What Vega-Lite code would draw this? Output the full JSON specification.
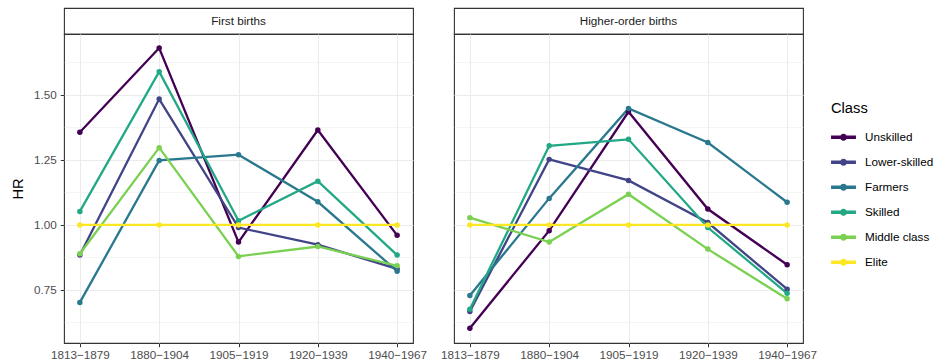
{
  "$schema": "https://vega.github.io/schema/vega-lite/v6.json",
  "background": "white",
  "padding": {"left": 10, "top": 7, "right": 5, "bottom": 5},
  "config": {
    "font": "Liberation Sans",
    "view": {"stroke": "#333333", "strokeWidth": 1.1}
  },
  "datasets": {
    "hr": [
      {"panel": "First births", "period": "1813\u22121879", "cls": "Unskilled", "hr": 1.356},
      {"panel": "First births", "period": "1880\u22121904", "cls": "Unskilled", "hr": 1.68},
      {"panel": "First births", "period": "1905\u22121919", "cls": "Unskilled", "hr": 0.934},
      {"panel": "First births", "period": "1920\u22121939", "cls": "Unskilled", "hr": 1.365},
      {"panel": "First births", "period": "1940\u22121967", "cls": "Unskilled", "hr": 0.96},
      {"panel": "First births", "period": "1813\u22121879", "cls": "Lower-skilled", "hr": 0.884},
      {"panel": "First births", "period": "1880\u22121904", "cls": "Lower-skilled", "hr": 1.484},
      {"panel": "First births", "period": "1905\u22121919", "cls": "Lower-skilled", "hr": 0.99},
      {"panel": "First births", "period": "1920\u22121939", "cls": "Lower-skilled", "hr": 0.924},
      {"panel": "First births", "period": "1940\u22121967", "cls": "Lower-skilled", "hr": 0.831},
      {"panel": "First births", "period": "1813\u22121879", "cls": "Farmers", "hr": 0.702},
      {"panel": "First births", "period": "1880\u22121904", "cls": "Farmers", "hr": 1.248},
      {"panel": "First births", "period": "1905\u22121919", "cls": "Farmers", "hr": 1.27},
      {"panel": "First births", "period": "1920\u22121939", "cls": "Farmers", "hr": 1.089},
      {"panel": "First births", "period": "1940\u22121967", "cls": "Farmers", "hr": 0.822},
      {"panel": "First births", "period": "1813\u22121879", "cls": "Skilled", "hr": 1.052},
      {"panel": "First births", "period": "1880\u22121904", "cls": "Skilled", "hr": 1.589},
      {"panel": "First births", "period": "1905\u22121919", "cls": "Skilled", "hr": 1.016},
      {"panel": "First births", "period": "1920\u22121939", "cls": "Skilled", "hr": 1.168},
      {"panel": "First births", "period": "1940\u22121967", "cls": "Skilled", "hr": 0.884},
      {"panel": "First births", "period": "1813\u22121879", "cls": "Middle class", "hr": 0.889},
      {"panel": "First births", "period": "1880\u22121904", "cls": "Middle class", "hr": 1.297},
      {"panel": "First births", "period": "1905\u22121919", "cls": "Middle class", "hr": 0.879},
      {"panel": "First births", "period": "1920\u22121939", "cls": "Middle class", "hr": 0.917},
      {"panel": "First births", "period": "1940\u22121967", "cls": "Middle class", "hr": 0.843},
      {"panel": "First births", "period": "1813\u22121879", "cls": "Elite", "hr": 1.0},
      {"panel": "First births", "period": "1880\u22121904", "cls": "Elite", "hr": 1.0},
      {"panel": "First births", "period": "1905\u22121919", "cls": "Elite", "hr": 1.0},
      {"panel": "First births", "period": "1920\u22121939", "cls": "Elite", "hr": 1.0},
      {"panel": "First births", "period": "1940\u22121967", "cls": "Elite", "hr": 1.0},
      {"panel": "Higher-order births", "period": "1813\u22121879", "cls": "Unskilled", "hr": 0.603},
      {"panel": "Higher-order births", "period": "1880\u22121904", "cls": "Unskilled", "hr": 0.978},
      {"panel": "Higher-order births", "period": "1905\u22121919", "cls": "Unskilled", "hr": 1.435},
      {"panel": "Higher-order births", "period": "1920\u22121939", "cls": "Unskilled", "hr": 1.061},
      {"panel": "Higher-order births", "period": "1940\u22121967", "cls": "Unskilled", "hr": 0.847},
      {"panel": "Higher-order births", "period": "1813\u22121879", "cls": "Lower-skilled", "hr": 0.667},
      {"panel": "Higher-order births", "period": "1880\u22121904", "cls": "Lower-skilled", "hr": 1.252},
      {"panel": "Higher-order births", "period": "1905\u22121919", "cls": "Lower-skilled", "hr": 1.171},
      {"panel": "Higher-order births", "period": "1920\u22121939", "cls": "Lower-skilled", "hr": 1.009},
      {"panel": "Higher-order births", "period": "1940\u22121967", "cls": "Lower-skilled", "hr": 0.753},
      {"panel": "Higher-order births", "period": "1813\u22121879", "cls": "Farmers", "hr": 0.729},
      {"panel": "Higher-order births", "period": "1880\u22121904", "cls": "Farmers", "hr": 1.102},
      {"panel": "Higher-order births", "period": "1905\u22121919", "cls": "Farmers", "hr": 1.448},
      {"panel": "Higher-order births", "period": "1920\u22121939", "cls": "Farmers", "hr": 1.317},
      {"panel": "Higher-order births", "period": "1940\u22121967", "cls": "Farmers", "hr": 1.087},
      {"panel": "Higher-order births", "period": "1813\u22121879", "cls": "Skilled", "hr": 0.676},
      {"panel": "Higher-order births", "period": "1880\u22121904", "cls": "Skilled", "hr": 1.304},
      {"panel": "Higher-order births", "period": "1905\u22121919", "cls": "Skilled", "hr": 1.329},
      {"panel": "Higher-order births", "period": "1920\u22121939", "cls": "Skilled", "hr": 0.99},
      {"panel": "Higher-order births", "period": "1940\u22121967", "cls": "Skilled", "hr": 0.737},
      {"panel": "Higher-order births", "period": "1813\u22121879", "cls": "Middle class", "hr": 1.028},
      {"panel": "Higher-order births", "period": "1880\u22121904", "cls": "Middle class", "hr": 0.934},
      {"panel": "Higher-order births", "period": "1905\u22121919", "cls": "Middle class", "hr": 1.118},
      {"panel": "Higher-order births", "period": "1920\u22121939", "cls": "Middle class", "hr": 0.907},
      {"panel": "Higher-order births", "period": "1940\u22121967", "cls": "Middle class", "hr": 0.716},
      {"panel": "Higher-order births", "period": "1813\u22121879", "cls": "Elite", "hr": 1.0},
      {"panel": "Higher-order births", "period": "1880\u22121904", "cls": "Elite", "hr": 1.0},
      {"panel": "Higher-order births", "period": "1905\u22121919", "cls": "Elite", "hr": 1.0},
      {"panel": "Higher-order births", "period": "1920\u22121939", "cls": "Elite", "hr": 1.0},
      {"panel": "Higher-order births", "period": "1940\u22121967", "cls": "Elite", "hr": 1.0}
    ]
  },
  "spacing": 11,
  "hconcat": [
    {
      "spacing": 0,
      "bounds": "flush",
      "vconcat": [
        {
          "width": 349, "height": 26,
          "view": {"stroke": "#333333", "strokeWidth": 1.1, "fill": "white"},
          "data": {"values": [{"label": "First births"}]},
          "mark": {"type": "text", "fontSize": 11.7, "color": "#1A1A1A", "baseline": "middle", "align": "center"},
          "encoding": {"text": {"field": "label"}}
        },
        {
          "width": 349, "height": 309,
          "data": {"name": "hr"},
          "transform": [{"filter": "datum.panel === 'First births'"}],
          "encoding": {
            "x": {"field": "period", "type": "ordinal", "scale": {"type": "point", "padding": 0.2},
              "axis": {"title": null, "labelAngle": 0, "labelFontSize": 11.7, "labelColor": "#4D4D4D", "domain": false, "tickColor": "#333333", "tickSize": 3.7, "labelPadding": 3, "grid": true, "gridColor": "#EBEBEB", "gridWidth": 1}},
            "y": {"field": "hr", "type": "quantitative", "scale": {"domain": [0.546, 1.734], "nice": false, "zero": false},
              "axis": {"title": "HR", "titleFontSize": 14.7, "titleFontWeight": "normal", "titleColor": "#000000", "titlePadding": 8,
                "values": [0.625, 0.75, 0.875, 1, 1.125, 1.25, 1.375, 1.5, 1.625],
                "labelExpr": "datum.value % 0.25 === 0 ? format(datum.value, '.2f') : ''",
                "labelFontSize": 11.7, "labelColor": "#4D4D4D", "labelPadding": 4, "domain": false,
                "tickColor": "#333333", "tickSize": 3.7,
                "tickOpacity": {"condition": {"test": "datum.value % 0.25 !== 0", "value": 0}, "value": 1},
                "gridColor": "#EBEBEB",
                "gridWidth": {"condition": {"test": "datum.value % 0.25 !== 0", "value": 0.5}, "value": 1}}},
            "color": {"field": "cls", "type": "nominal", "sort": ["Unskilled", "Lower-skilled", "Farmers", "Skilled", "Middle class", "Elite"],
              "scale": {"domain": ["Unskilled", "Lower-skilled", "Farmers", "Skilled", "Middle class", "Elite"], "range": ["#440154", "#414487", "#2A788E", "#22A884", "#7AD151", "#FDE725"]},
              "legend": {"title": "Class", "orient": "none", "legendX": 767, "legendY": 93, "titleFontSize": 14.7, "titleFontWeight": "normal", "titleColor": "#000000", "titlePadding": 9,
                "labelFontSize": 11.7, "labelColor": "#000000", "labelOffset": 9,
                "symbolType": "M-1,-0.14H1V0.14H-1Z M0.28,0 A0.28,0.28 0 1,1 -0.28,0 A0.28,0.28 0 1,1 0.28,0Z",
                "symbolSize": 620, "symbolStrokeWidth": 0, "symbolOpacity": 1, "rowPadding": 5}}
          },
          "layer": [
            {"mark": {"type": "line", "strokeWidth": 2.3}},
            {"mark": {"type": "point", "filled": true, "size": 30, "opacity": 1}}
          ]
        }
      ]
    },
    {
      "spacing": 0,
      "bounds": "flush",
      "vconcat": [
        {
          "width": 349, "height": 26,
          "view": {"stroke": "#333333", "strokeWidth": 1.1, "fill": "white"},
          "data": {"values": [{"label": "Higher-order births"}]},
          "mark": {"type": "text", "fontSize": 11.7, "color": "#1A1A1A", "baseline": "middle", "align": "center"},
          "encoding": {"text": {"field": "label"}}
        },
        {
          "width": 349, "height": 309,
          "data": {"name": "hr"},
          "transform": [{"filter": "datum.panel === 'Higher-order births'"}],
          "encoding": {
            "x": {"field": "period", "type": "ordinal", "scale": {"type": "point", "padding": 0.2},
              "axis": {"title": null, "labelAngle": 0, "labelFontSize": 11.7, "labelColor": "#4D4D4D", "domain": false, "tickColor": "#333333", "tickSize": 3.7, "labelPadding": 3, "grid": true, "gridColor": "#EBEBEB", "gridWidth": 1}},
            "y": {"field": "hr", "type": "quantitative", "scale": {"domain": [0.546, 1.734], "nice": false, "zero": false},
              "axis": {"title": null, "labels": false, "ticks": false, "domain": false,
                "values": [0.625, 0.75, 0.875, 1, 1.125, 1.25, 1.375, 1.5, 1.625],
                "gridColor": "#EBEBEB",
                "gridWidth": {"condition": {"test": "datum.value % 0.25 !== 0", "value": 0.5}, "value": 1}}},
            "color": {"field": "cls", "type": "nominal", "sort": ["Unskilled", "Lower-skilled", "Farmers", "Skilled", "Middle class", "Elite"],
              "scale": {"domain": ["Unskilled", "Lower-skilled", "Farmers", "Skilled", "Middle class", "Elite"], "range": ["#440154", "#414487", "#2A788E", "#22A884", "#7AD151", "#FDE725"]}}
          },
          "layer": [
            {"mark": {"type": "line", "strokeWidth": 2.3}},
            {"mark": {"type": "point", "filled": true, "size": 30, "opacity": 1}}
          ]
        }
      ]
    }
  ]
}
